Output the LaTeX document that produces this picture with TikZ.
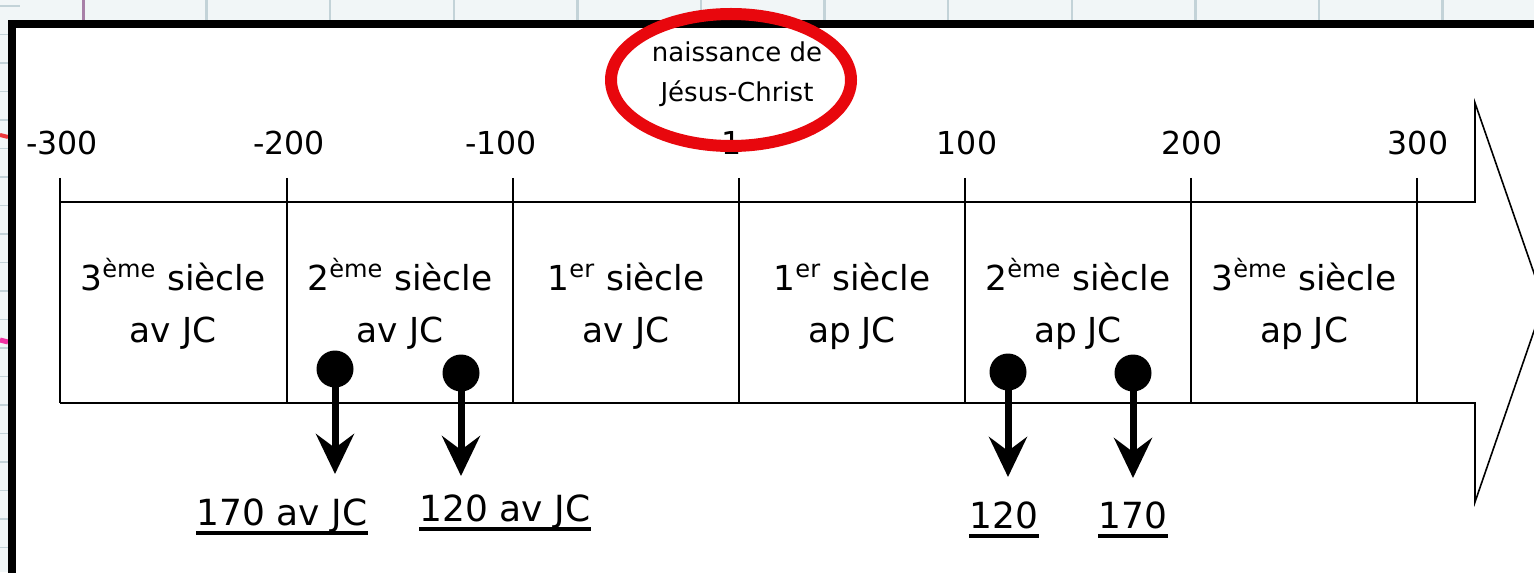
\documentclass[tikz,border=0pt]{standalone}
\usepackage{fontspec}
\setmainfont{DejaVu Sans}
\usetikzlibrary{arrows.meta}
\definecolor{paper}{HTML}{F1F6F7}
\definecolor{gridline}{HTML}{C3D3D8}
\definecolor{marginline}{HTML}{A880A8}
\definecolor{ringred}{HTML}{E8070D}
\begin{document}
\begin{tikzpicture}[x=0.5pt,y=-0.5pt,
  tl/.style={line width=0.8pt, line join=miter},
  num/.style={font=\fontsize{15.8}{18}\selectfont, anchor=base, inner sep=0pt},
  cent/.style={font=\fontsize{17.2}{21}\selectfont, anchor=base, inner sep=0pt},
  note/.style={font=\fontsize{13}{16}\selectfont, anchor=base, inner sep=0pt},
  dot/.style={circle, fill=black, minimum size=18.5pt, inner sep=0pt},
  evt/.style={line width=3.5pt, -{Stealth[length=20pt,width=19pt,inset=7pt]}},
  lbl/.style={font=\fontsize{18}{21}\selectfont, anchor=base, inner sep=0pt},
  ul/.style={line width=2pt}]
\useasboundingbox (0,0) rectangle (1534,572);
\clip (0,0) rectangle (1534,572);
% grid paper
\fill[paper] (0,0) rectangle (1534,572);
\foreach \k in {0,...,12} \draw[gridline, line width=1.2pt] ({83+123.6*\k},0) -- ({83+123.6*\k},572);
\draw[marginline, line width=1.5pt] (83,0) -- (83,30);
\foreach \k in {0,...,20} \draw[gridline, line width=0.8pt] (0,{6+28.5*\k}) -- (20,{6+28.5*\k});
\draw[ringred!80, line width=2pt] (0,135) -- (8,137);
\draw[magenta!80, line width=2.5pt] (0,340) -- (8,342);
% frame
\draw[line width=4pt, fill=white] (12,24) rectangle (1600,650);
% timeline band with arrow
\draw[tl] (60,202) -- (1475,202) -- (1475,103) -- (1544,302) -- (1475,502) -- (1475,403) -- (60,403);
\foreach \x in {60,287,513,739,965,1191,1417} \draw[tl] (\x,178) -- (\x,403);
% scale numbers
\node[num] (n1) at (62,155) {-300};
\node[num] (n2) at (289,155) {-200};
\node[num] (n3) at (501,155) {-100};
\node[num] (n4) at (732,155) {1};
\node[num] (n5) at (967,155) {100};
\node[num] (n6) at (1192,155) {200};
\node[num] (n7) at (1418,155) {300};
% centuries
\node[cent] (c1a) at (173,290) {3\textsuperscript{ème} siècle};
\node[cent] (c1b) at (173,342) {av JC};
\node[cent] (c2a) at (400,290) {2\textsuperscript{ème} siècle};
\node[cent] (c2b) at (400,342) {av JC};
\node[cent] (c3a) at (626,290) {1\textsuperscript{er} siècle};
\node[cent] (c3b) at (626,342) {av JC};
\node[cent] (c4a) at (852,290) {1\textsuperscript{er} siècle};
\node[cent] (c4b) at (852,342) {ap JC};
\node[cent] (c5a) at (1078,290) {2\textsuperscript{ème} siècle};
\node[cent] (c5b) at (1078,342) {ap JC};
\node[cent] (c6a) at (1304,290) {3\textsuperscript{ème} siècle};
\node[cent] (c6b) at (1304,342) {ap JC};
% events
\node[dot] (d1) at (335,369) {};
\node[dot] (d2) at (461,373) {};
\node[dot] (d3) at (1008,372) {};
\node[dot] (d4) at (1133,373) {};
\coordinate (t1) at (335,474);
\coordinate (t2) at (461,476);
\coordinate (t3) at (1008,477);
\coordinate (t4) at (1133,478);
\draw[evt] (d1.center) -- (t1);
\draw[evt] (d2.center) -- (t2);
\draw[evt] (d3.center) -- (t3);
\draw[evt] (d4.center) -- (t4);
\node[lbl] (l1) at (282,525) {170 av JC};
\node[lbl] (l2) at (505,521) {120 av JC};
\node[lbl] (l3) at (1004,528) {120};
\node[lbl] (l4) at (1133,528) {170};
\foreach \l in {l1,l2,l3,l4}
  \draw[ul] ([yshift=-4pt]\l.base west) -- ([yshift=-4pt]\l.base east);
% birth of Christ
\node[note] (b1) at (737,62) {naissance de};
\node[note] (b2) at (737,102) {Jésus-Christ};
\draw[ringred, line width=6pt] (731,80) ellipse [x radius=60pt, y radius=33pt];
\end{tikzpicture}
\end{document}
